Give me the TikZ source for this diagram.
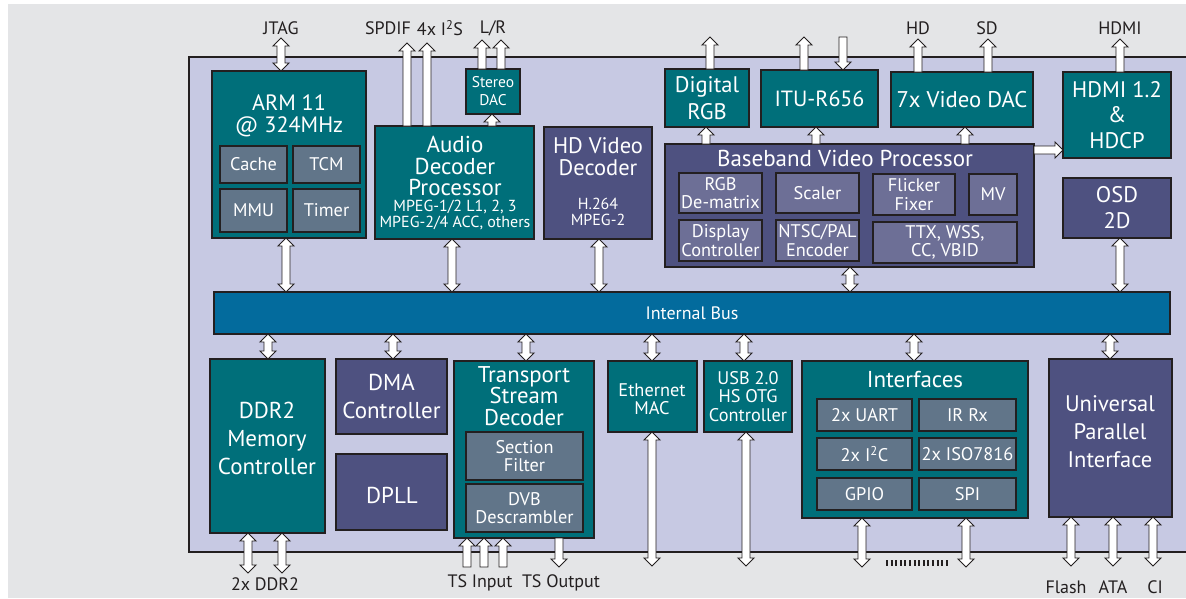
\documentclass[tikz,border=0pt]{standalone}
\usepackage{fontspec}
\setmainfont{PT Sans}
\usetikzlibrary{calc}
\definecolor{bggrey}{HTML}{E4E5E7}
\definecolor{boardc}{HTML}{C7C9E3}
\definecolor{tealc}{HTML}{006F7A}
\definecolor{purpc}{HTML}{4E5180}
\definecolor{subteal}{HTML}{617589}
\definecolor{subpurp}{HTML}{6D6F96}
\definecolor{busc}{HTML}{036B9D}
\definecolor{edge}{HTML}{231F20}
\newcommand\fbig{\fontsize{23}{22}\selectfont}
\newcommand\fmed{\fontsize{18.3}{18.5}\selectfont}
\newcommand\fsml{\fontsize{16}{16.5}\selectfont}
\newcommand\flbl{\fontsize{18}{18}\selectfont}
\tikzset{
 box/.style={draw=edge, line width=2.2pt, inner sep=0pt, outer sep=0pt, text=white, align=center},
 tbox/.style={box, fill=tealc},
 pbox/.style={box, fill=purpc},
 subb/.style={draw=edge, line width=1.2pt, inner sep=0pt, outer sep=0pt, text=white, align=center, font=\fmed},
 stbox/.style={subb, fill=subteal},
 spbox/.style={subb, fill=subpurp},
 txt/.style={text=white, align=center, inner sep=0pt},
 lbl/.style={text=edge, inner sep=0pt, font=\flbl},
 fatarr/.style={draw=edge, fill=white, line width=0.9pt, line join=miter},
}
% box by corners: name, x1, y1, x2, y2, style, text
\newcommand\bx[7]{\node[#6, minimum width={#4-#2}, minimum height={#5-#3}] (#1) at ({(#2+#4)/2},{(#3+#5)/2}) {#7};}
% single-headed fat vertical arrow, head at #2
\newcommand\uarr[2]{\path[fatarr] let \p1=#1, \p2=#2, \n1={sign(\y2-\y1)} in
 (\x1-4pt,\y1) -- (\x1-4pt,{\y2-8pt*(\n1)}) -- (\x1-8pt,{\y2-8pt*(\n1)}) -- (\x1,\y2) -- (\x1+8pt,{\y2-8pt*(\n1)}) -- (\x1+4pt,{\y2-8pt*(\n1)}) -- (\x1+4pt,\y1) -- cycle;}
% double-headed fat vertical arrow
\newcommand\darr[2]{\path[fatarr] let \p1=#1, \p2=#2, \n1={sign(\y2-\y1)} in
 (\x1,\y1) -- (\x1+8pt,{\y1+8pt*(\n1)}) -- (\x1+4pt,{\y1+8pt*(\n1)}) -- (\x1+4pt,{\y2-8pt*(\n1)}) -- (\x1+8pt,{\y2-8pt*(\n1)}) -- (\x1,\y2) -- (\x1-8pt,{\y2-8pt*(\n1)}) -- (\x1-4pt,{\y2-8pt*(\n1)}) -- (\x1-4pt,{\y1+8pt*(\n1)}) -- (\x1-8pt,{\y1+8pt*(\n1)}) -- cycle;}
% single-headed fat horizontal arrow
\newcommand\harr[2]{\path[fatarr] let \p1=#1, \p2=#2, \n1={sign(\x2-\x1)} in
 (\x1,\y1-4pt) -- ({\x2-8pt*(\n1)},\y1-4pt) -- ({\x2-8pt*(\n1)},\y1-8pt) -- (\x2,\y1) -- ({\x2-8pt*(\n1)},\y1+8pt) -- ({\x2-8pt*(\n1)},\y1+4pt) -- (\x1,\y1+4pt) -- cycle;}
\begin{document}
\begin{tikzpicture}[x=1pt,y=-1pt]
\useasboundingbox (0,0) rectangle (1186,598);
\clip (0,0) rectangle (1186,598);
\fill[bggrey] (8,4) rectangle (1186,598);
\draw[fill=boardc, draw=edge, line width=2.2pt] (189,57) rectangle (1200,552);

% ---- upper blocks
\bx{arm}{212}{71}{366}{238}{tbox}{}
\node[txt,font=\fontsize{22.2}{22}\selectfont] (armT) at (289,116) {ARM 11\\@ 324MHz};
\bx{cache}{220}{146}{287}{183}{stbox}{Cache}
\bx{tcm}{293}{146}{360}{183}{stbox}{TCM}
\bx{mmu}{220}{189}{287}{232}{stbox}{MMU}
\bx{timer}{293}{189}{360}{232}{stbox}{Timer}

\bx{audio}{375}{126}{534}{239}{tbox}{}
\node[txt,font=\fontsize{23}{21.5}\selectfont] (audT) at (455,166) {Audio\\Decoder\\Processor};
\node[txt,font=\fsml] (audS) at (455,215) {MPEG-1/2 L1, 2, 3\\MPEG-2/4 ACC, others};
\bx{sdac}{466}{69}{520}{114}{tbox,font=\fontsize{15.5}{18}\selectfont}{Stereo\\DAC}

\bx{hdv}{544}{127}{652}{239}{pbox}{}
\node[txt,font=\fontsize{22.5}{22}\selectfont] (hdvT) at (598,157) {HD Video\\Decoder};
\node[txt,font=\fsml] (hdvS) at (598,212) {H.264\\MPEG-2};

\bx{drgb}{665}{69}{749}{127}{tbox,font=\fontsize{22.5}{27}\selectfont}{Digital\\RGB}
\bx{itu}{761}{70}{878}{127}{tbox,font=\fontsize{22}{26}\selectfont}{ITU-R656}
\bx{vdac}{891}{72}{1033}{127}{tbox,font=\fontsize{22.7}{26}\selectfont}{7x Video DAC}
\bx{hdmi}{1063}{72}{1171}{158}{tbox,font=\fontsize{22.5}{25.5}\selectfont}{HDMI 1.2\\\&\\HDCP}
\bx{osd}{1063}{178}{1171}{238}{pbox,font=\fontsize{22.5}{26}\selectfont}{OSD\\2D}

\bx{bvp}{665}{144}{1034}{267}{pbox}{}
\node[txt,font=\fbig] (bvpT) at (845,158) {Baseband Video Processor};
\bx{rgbm}{679}{173}{762}{213}{spbox}{RGB\\De-matrix}
\bx{scal}{776}{173}{859}{213}{spbox}{Scaler}
\bx{flick}{873}{174}{955}{215}{spbox}{Flicker\\Fixer}
\bx{mv}{969}{174}{1017}{215}{spbox}{MV}
\bx{disp}{679}{220}{762}{261}{spbox}{Display\\Controller}
\bx{ntsc}{776}{220}{859}{261}{spbox}{NTSC/PAL\\Encoder}
\bx{ttx}{873}{222}{1017}{263}{spbox}{TTX, WSS,\\CC, VBID}

% ---- bus
\bx{bus}{214}{292}{1170}{334}{box,fill=busc,font=\flbl}{Internal Bus}

% ---- lower blocks
\bx{ddr}{210}{359}{325}{533}{tbox}{}
\node[txt,font=\fontsize{23}{28}\selectfont] (ddrT) at (267,438) {DDR2\\Memory\\Controller};
\bx{dma}{336}{359}{447}{434}{pbox,font=\fontsize{23}{28}\selectfont}{DMA\\Controller}
\bx{dpll}{336}{454}{447}{530}{pbox}{}
\node[txt,font=\fontsize{23}{28}\selectfont] (dpllT) at (392,495) {DPLL};
\bx{tsd}{454}{361}{594}{538}{tbox}{}
\node[txt,font=\fontsize{22.8}{21.5}\selectfont] (tsdT) at (524,396) {Transport\\Stream\\Decoder};
\bx{secf}{466}{432}{583}{480}{stbox}{Section\\Filter}
\bx{dvb}{466}{484}{583}{532}{stbox}{DVB\\Descrambler}
\bx{eth}{608}{361}{697}{432}{tbox}{}
\node[txt,font=\fmed] (ethT) at (652,399) {Ethernet\\MAC};
\bx{usb}{704}{361}{792}{432}{tbox,font=\fmed}{USB 2.0\\HS OTG\\Controller}
\bx{intf}{802}{361}{1028}{518}{tbox}{}
\node[txt,font=\fbig] (intfT) at (915,380) {Interfaces};
\bx{uart}{817}{399}{912}{431}{stbox}{2x UART}
\bx{irrx}{919}{399}{1016}{431}{stbox}{IR Rx}
\bx{iic}{817}{438}{912}{470}{stbox}{2x I\textsuperscript{2}C}
\bx{iso}{919}{438}{1016}{470}{stbox}{2x ISO7816}
\bx{gpio}{817}{478}{912}{510}{stbox}{GPIO}
\bx{spi}{919}{478}{1016}{510}{stbox}{SPI}
\bx{upi}{1049}{359}{1172}{517}{pbox}{}
\node[txt,font=\fontsize{22.5}{28}\selectfont] (upiT) at (1110,432) {Universal\\Parallel\\Interface};

% ---- outside labels
\node[lbl] (jtag) at (281,28) {JTAG};
\node[lbl] (spdif) at (388,28) {SPDIF};
\node[lbl] (i2s) at (440,28) {4x I\textsuperscript{2}S};
\node[lbl] (lr) at (493,28) {L/R};
\node[lbl] (hd) at (918,28) {HD};
\node[lbl] (sd) at (987,28) {SD};
\node[lbl] (hdmiL) at (1120,28) {HDMI};
\node[lbl] (ddrL) at (265,584) {2x DDR2};
\node[lbl] (tsiL) at (480,583) {TS Input};
\node[lbl] (tsoL) at (561,583) {TS Output};
\node[lbl] (flash) at (1066,587) {Flash};
\node[lbl] (ata) at (1113,587) {ATA};
\node[lbl] (ci) at (1155,587) {CI};

% ---- free ends and x references
\coordinate (jtagE) at (281,38);
\coordinate (spdifE) at (407,43);
\coordinate (i2sE) at (427,43);
\coordinate (lE) at (482,40);
\coordinate (rE) at (501,40);
\coordinate (adx) at (492,0);
\coordinate (drgbE) at (710,37);
\coordinate (bx1) at (706,0);
\coordinate (ituO) at (804,37);
\coordinate (ituI) at (843,37);
\coordinate (bx2) at (816,0);
\coordinate (hdE) at (918,39);
\coordinate (sdE) at (988,39);
\coordinate (bx3) at (965,0);
\coordinate (hy) at (0,150);
\coordinate (hdmiE) at (1120,39);
\coordinate (t1) at (286,0);
\coordinate (t2) at (452,0);
\coordinate (t3) at (599,0);
\coordinate (t4) at (850,0);
\coordinate (t5) at (1120,0);
\coordinate (b1) at (268,0);
\coordinate (b2) at (393,0);
\coordinate (b3) at (526,0);
\coordinate (b4) at (652,0);
\coordinate (b5) at (744,0);
\coordinate (b6) at (914,0);
\coordinate (b7) at (1110,0);
\coordinate (ddrE1) at (248,573);
\coordinate (ddrE2) at (282,573);
\coordinate (tsi1) at (467,567);
\coordinate (tsi2) at (484,567);
\coordinate (tsi3) at (503,567);
\coordinate (tso) at (559,567);
\coordinate (ethE) at (652,566);
\coordinate (usbE) at (746,566);
\coordinate (ifE1) at (862,567);
\coordinate (ifE2) at (966,567);
\coordinate (upE1) at (1071,566);
\coordinate (upE2) at (1113,566);
\coordinate (upE3) at (1153,566);
\coordinate (dashA) at (886,563);
\coordinate (dashB) at (950,563);

% ---- connectors (top)
\darr{(arm.north -| jtagE)}{(jtagE)}
\uarr{(audio.north -| spdifE)}{(spdifE)}
\uarr{(audio.north -| i2sE)}{(i2sE)}
\uarr{(sdac.north -| lE)}{(lE)}
\uarr{(sdac.north -| rE)}{(rE)}
\uarr{(audio.north -| adx)}{(sdac.south -| adx)}
\uarr{(drgb.north -| drgbE)}{(drgbE)}
\uarr{(bvp.north -| bx1)}{(drgb.south -| bx1)}
\uarr{(itu.north -| ituO)}{(ituO)}
\uarr{(ituI)}{(itu.north -| ituI)}
\uarr{(bvp.north -| bx2)}{(itu.south -| bx2)}
\uarr{(vdac.north -| hdE)}{(hdE)}
\uarr{(vdac.north -| sdE)}{(sdE)}
\uarr{(bvp.north -| bx3)}{(vdac.south -| bx3)}
\harr{(bvp.east |- hy)}{(hdmi.west |- hy)}
\uarr{(hdmi.north -| hdmiE)}{(hdmiE)}

% ---- connectors to the bus
\darr{(arm.south -| t1)}{(bus.north -| t1)}
\darr{(audio.south -| t2)}{(bus.north -| t2)}
\darr{(hdv.south -| t3)}{(bus.north -| t3)}
\darr{(bvp.south -| t4)}{(bus.north -| t4)}
\darr{(osd.south -| t5)}{(bus.north -| t5)}
\darr{(bus.south -| b1)}{(ddr.north -| b1)}
\darr{(bus.south -| b2)}{(dma.north -| b2)}
\darr{(bus.south -| b3)}{(tsd.north -| b3)}
\darr{(bus.south -| b4)}{(eth.north -| b4)}
\darr{(bus.south -| b5)}{(usb.north -| b5)}
\darr{(bus.south -| b6)}{(intf.north -| b6)}
\darr{(bus.south -| b7)}{(upi.north -| b7)}

% ---- connectors (bottom)
\darr{(ddr.south -| ddrE1)}{(ddrE1)}
\darr{(ddr.south -| ddrE2)}{(ddrE2)}
\uarr{(tsi1)}{(tsd.south -| tsi1)}
\uarr{(tsi2)}{(tsd.south -| tsi2)}
\uarr{(tsi3)}{(tsd.south -| tsi3)}
\uarr{(tsd.south -| tso)}{(tso)}
\darr{(eth.south -| ethE)}{(ethE)}
\darr{(usb.south -| usbE)}{(usbE)}
\darr{(intf.south -| ifE1)}{(ifE1)}
\darr{(intf.south -| ifE2)}{(ifE2)}
\darr{(upi.south -| upE1)}{(upE1)}
\darr{(upi.south -| upE2)}{(upE2)}
\darr{(upi.south -| upE3)}{(upE3)}
\draw[edge, line width=6pt, dash pattern=on 2pt off 2.6pt] (dashA) -- (dashB);
\end{tikzpicture}
\end{document}
